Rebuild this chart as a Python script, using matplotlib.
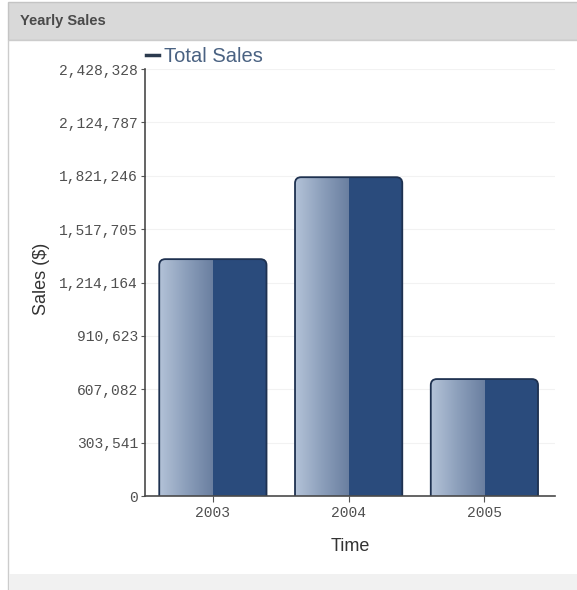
import matplotlib.pyplot as plt
import numpy as np
from matplotlib.patches import FancyBboxPatch, Rectangle
from matplotlib.colors import LinearSegmentedColormap

years = ["2003", "2004", "2005"]
sales = [1347000, 1813000, 665000]
tick_vals = [0, 303541, 607082, 910623, 1214164, 1517705, 1821246, 2124787, 2428328]
tick_labels = ["0", "303,541", "607,082", "910,623", "1,214,164", "1,517,705",
               "1,821,246", "2,124,787", "2,428,328"]

fig = plt.figure(figsize=(5.77, 5.90), dpi=100)

# panel frame: header band, left border, footer
fig.patches.append(Rectangle((8 / 577, 1 - 40 / 590), 1, 38 / 590, transform=fig.transFigure,
                             facecolor="#d9d9d9", edgecolor="#c4c4c4", lw=1, zorder=-3))
fig.patches.append(Rectangle((8 / 577, 0), 1, 1 - 40 / 590, transform=fig.transFigure,
                             facecolor="white", edgecolor="#cccccc", lw=1, zorder=-3))
fig.patches.append(Rectangle((9 / 577, 0), 1, 16 / 590, transform=fig.transFigure,
                             facecolor="#f1f1f1", edgecolor="none", zorder=-2))
fig.text(20 / 577, 1 - 21 / 590, "Yearly Sales", fontsize=10.5, fontweight="bold",
         family="Liberation Sans", color="#4a4a4a", va="center", ha="left")

ax = fig.add_axes([145 / 577, 1 - 496 / 590, 410 / 577, 427 / 590])
ax.set_zorder(1)
ax.set_facecolor("none")
x = np.arange(len(years))
width = 0.79

xlim = (-0.5, 2.52)
ymax = 2428328
ax.set_xlim(*xlim)
ax.set_ylim(0, ymax)

# px -> data scale for rounding aspect
px_x = (xlim[1] - xlim[0]) / 410
px_y = ymax / 427
aspect = px_y / px_x

cmap = LinearSegmentedColormap.from_list("g", ["#b4c3d8", "#8c9fbb", "#6a7fa0"])
grad = np.linspace(0, 1, 256).reshape(1, -1)

bars = ax.bar(x, sales, width=width, color="none", edgecolor="none")
for b in bars:
    x0, w, h = b.get_x(), b.get_width(), b.get_height()
    pad = 20 * px_y
    patch = FancyBboxPatch((x0, -pad), w, h + pad,
                           boxstyle="round,pad=0,rounding_size=0.045",
                           mutation_aspect=aspect, facecolor="#2a4b7c",
                           edgecolor="none", zorder=3)
    ax.add_patch(patch)
    im = ax.imshow(grad, cmap=cmap, aspect="auto", extent=(x0, x0 + w / 2, 0, h),
                   zorder=3.5, interpolation="bicubic")
    im.set_clip_path(patch)
    edge = FancyBboxPatch((x0, -pad), w, h + pad,
                          boxstyle="round,pad=0,rounding_size=0.045",
                          mutation_aspect=aspect, facecolor="none",
                          edgecolor="#1e3150", lw=1.3, zorder=4)
    ax.add_patch(edge)

ax.set_xlim(*xlim)
ax.set_ylim(0, ymax)
ax.set_yticks(tick_vals)
ax.set_yticklabels(tick_labels, fontsize=10.5, color="#505050", family="Liberation Mono")
ax.set_xticks(x)
ax.set_xticklabels(years, fontsize=10.5, color="#505050", family="Liberation Mono")
ax.tick_params(axis="y", length=3, width=0.8, color="#555555", pad=2)
ax.tick_params(axis="x", length=4, width=0.8, color="#555555", pad=3)
ax.yaxis.grid(True, color="#f2f2f2", lw=0.8)
ax.set_axisbelow(True)
for s in ["top", "right"]:
    ax.spines[s].set_visible(False)
for s in ["left", "bottom"]:
    ax.spines[s].set_color("#4a4a4a")
    ax.spines[s].set_linewidth(1.2)
    ax.spines[s].set_zorder(5)

ax.set_ylabel("Sales ($)", fontsize=13, color="#333333", family="Liberation Sans")
ax.set_xlabel("Time", fontsize=13, color="#333333", family="Liberation Sans")
ax.yaxis.set_label_coords(-0.232, 0.508)
ax.xaxis.set_label_coords(0.5, -0.098)

# legend
fig.lines.append(plt.Line2D([146 / 577, 159 / 577], [1 - 55 / 590, 1 - 55 / 590],
                            transform=fig.transFigure, color="#2b3a4e", lw=2.5, zorder=5))
fig.text(164 / 577, 1 - 57 / 590, "Total Sales", fontsize=14.5, color="#4a6282",
         family="Liberation Sans", va="center", ha="left")

fig.savefig("out.png", dpi=100)
